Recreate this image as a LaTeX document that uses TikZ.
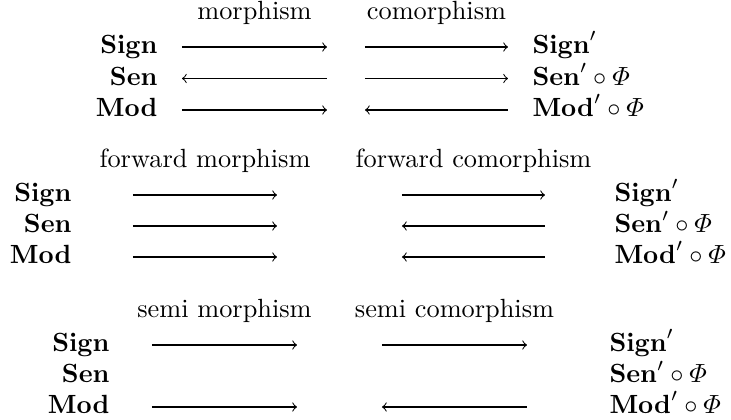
\documentclass[tikz,border=0pt]{standalone}
\usepackage{amsmath}
\begin{document}
\begin{tikzpicture}[x=0.38pt,y=-0.38pt,
  lft/.style={inner sep=0pt,anchor=base east},
  rgt/.style={inner sep=0pt,anchor=base west},
  head/.style={inner sep=0pt,anchor=base},
  arr/.style={->,line width=0.4pt}]
\useasboundingbox (0,0) rectangle (731,419);
% ---------- block 1 ----------
\node[head] (h1a) at (254.5,19.6) {morphism};
\node[head] (h1b) at (436.5,19.6) {comorphism};
\node[lft] (l1a) at (158,53.6) {$\mathbf{Sign}$};
\node[lft] (l1b) at (158,85.1) {$\mathbf{Sen}$};
\node[lft] (l1c) at (158,116.6) {$\mathbf{Mod}$};
\node[rgt] (r1a) at (532,53.6) {$\mathbf{Sign}'$};
\node[rgt] (r1b) at (532,85.1) {$\mathbf{Sen}'\circ\varPhi$};
\node[rgt] (r1c) at (532,116.6) {$\mathbf{Mod}'\circ\varPhi$};
\coordinate (p1a) at (182,47); \coordinate (q1a) at (327,47);
\coordinate (s1a) at (365,47); \coordinate (t1a) at (508,47);
\coordinate (p1b) at (182,78.5); \coordinate (q1b) at (327,78.5);
\coordinate (s1b) at (365,78.5); \coordinate (t1b) at (508,78.5);
\coordinate (p1c) at (182,110); \coordinate (q1c) at (327,110);
\coordinate (s1c) at (365,110); \coordinate (t1c) at (508,110);
\draw[arr] (p1a) -- (q1a);
\draw[arr] (s1a) -- (t1a);
\draw[arr] (q1b) -- (p1b);
\draw[arr] (s1b) -- (t1b);
\draw[arr] (p1c) -- (q1c);
\draw[arr] (t1c) -- (s1c);
% ---------- block 2 ----------
\node[head] (h2a) at (205,167.6) {forward morphism};
\node[head] (h2b) at (473.5,167.6) {forward comorphism};
\node[lft] (l2a) at (72,201.6) {$\mathbf{Sign}$};
\node[lft] (l2b) at (72,232.6) {$\mathbf{Sen}$};
\node[lft] (l2c) at (72,263.6) {$\mathbf{Mod}$};
\node[rgt] (r2a) at (614,201.6) {$\mathbf{Sign}'$};
\node[rgt] (r2b) at (614,232.6) {$\mathbf{Sen}'\circ\varPhi$};
\node[rgt] (r2c) at (614,263.6) {$\mathbf{Mod}'\circ\varPhi$};
\coordinate (p2a) at (133,195); \coordinate (q2a) at (277,195);
\coordinate (s2a) at (402,195); \coordinate (t2a) at (545,195);
\coordinate (p2b) at (133,226); \coordinate (q2b) at (277,226);
\coordinate (s2b) at (402,226); \coordinate (t2b) at (545,226);
\coordinate (p2c) at (133,257); \coordinate (q2c) at (277,257);
\coordinate (s2c) at (402,257); \coordinate (t2c) at (545,257);
\draw[arr] (p2a) -- (q2a);
\draw[arr] (s2a) -- (t2a);
\draw[arr] (p2b) -- (q2b);
\draw[arr] (t2b) -- (s2b);
\draw[arr] (p2c) -- (q2c);
\draw[arr] (t2c) -- (s2c);
% ---------- block 3 ----------
\node[head] (h3a) at (224.5,317.6) {semi morphism};
\node[head] (h3b) at (454.5,317.6) {semi comorphism};
\node[lft] (l3a) at (110,351.6) {$\mathbf{Sign}$};
\node[lft] (l3b) at (110,382.6) {$\mathbf{Sen}$};
\node[lft] (l3c) at (110,413.6) {$\mathbf{Mod}$};
\node[rgt] (r3a) at (609,351.6) {$\mathbf{Sign}'$};
\node[rgt] (r3b) at (609,382.6) {$\mathbf{Sen}'\circ\varPhi$};
\node[rgt] (r3c) at (609,413.6) {$\mathbf{Mod}'\circ\varPhi$};
\coordinate (p3a) at (152,345); \coordinate (q3a) at (297,345);
\coordinate (s3a) at (382,345); \coordinate (t3a) at (527,345);
\coordinate (p3c) at (152,407); \coordinate (q3c) at (297,407);
\coordinate (s3c) at (382,407); \coordinate (t3c) at (527,407);
\draw[arr] (p3a) -- (q3a);
\draw[arr] (s3a) -- (t3a);
\draw[arr] (p3c) -- (q3c);
\draw[arr] (t3c) -- (s3c);
\end{tikzpicture}
\end{document}
